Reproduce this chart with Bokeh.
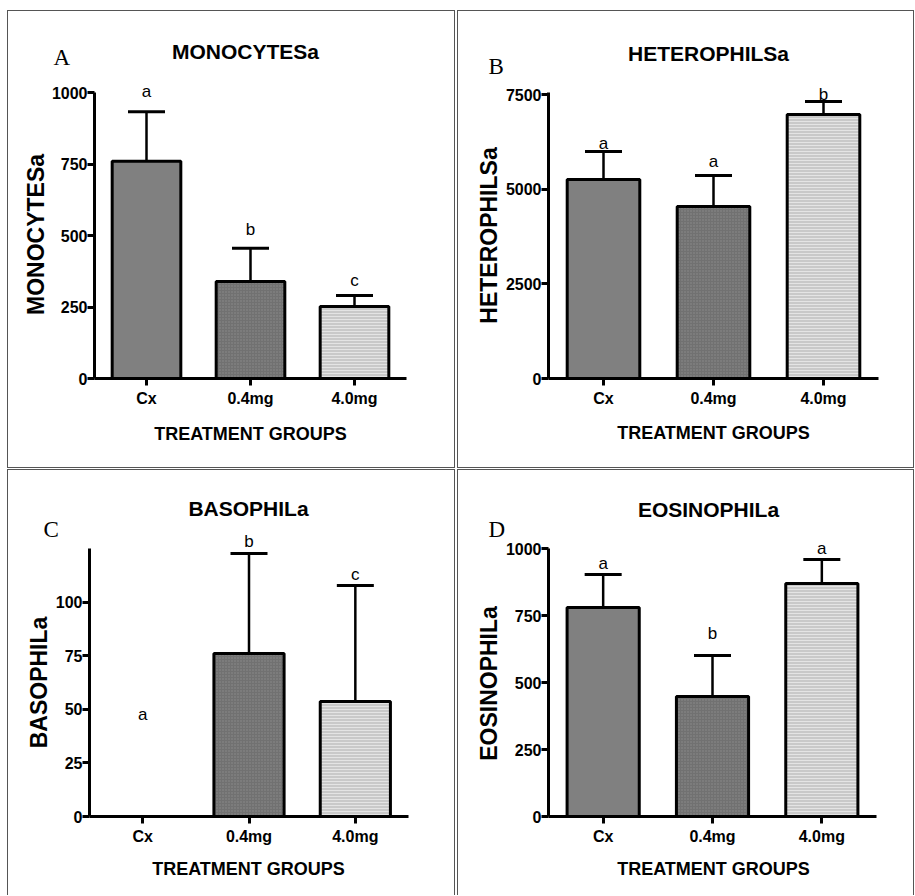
import math
from bokeh.plotting import figure
from bokeh.models import (Range1d, FixedTicker, Whisker, TeeHead,
                          Label, LabelSet, ColumnDataSource)
from bokeh.layouts import column, row
from bokeh.core.properties import value
from bokeh.embed import file_html
from bokeh.resources import INLINE

# ---------------- data ----------------
groups = ["Cx", "0.4mg", "4.0mg"]
x_label = "TREATMENT GROUPS"

mono_mean = [760, 339, 252]
mono_err = [933, 455, 290]
mono_sig = ["a", "b", "c"]
mono_sig_y = [1003, 521, 343]
mono_ticks = [0, 250, 500, 750, 1000]

het_mean = [5265, 4551, 6985]
het_err = [6006, 5371, 7329]
het_sig = ["a", "a", "b"]
het_sig_y = [6218, 5742, 7515]
het_ticks = [0, 2500, 5000, 7500]

baso_mean = [0, 76, 53.6]
baso_err = [None, 122.7, 107.7]
baso_sig = ["a", "b", "c"]
baso_sig_y = [47.6, 128.3, 112.9]
baso_ticks = [0, 25, 50, 75, 100]

eos_mean = [780, 448, 869]
eos_err = [903, 601, 959]
eos_sig = ["a", "b", "a"]
eos_sig_y = [944, 683, 1000]
eos_ticks = [0, 250, 500, 750, 1000]

# ---------------- styles ----------------
SANS = "Liberation Sans"
SERIF = "Liberation Serif"
bar_fill = ["#808080", "#717171", "#c9c9c9"]
bar_hatch = [" ", ".", "-"]
bar_hatch_color = ["#808080", "#8c8c8c", "#e4e4e4"]
xpos = [i + 0.5 for i in range(len(groups))]


def make_panel(means, errs, sigs, sig_y, ticks, ymax, title, ylabel, letter, g,
               bottom_border=True):
    ox, oy, W, H = g["fig"]
    L, R, T, B = g["axes"]          # pixel positions inside the figure
    n = len(groups)
    sx = (R - L) / n
    sy = (B - T) / ymax
    x_range = Range1d(-L / sx, n + (W - R) / sx)
    y_range = Range1d(-(H - B) / sy, ymax + T / sy)

    p = figure(x_range=x_range, y_range=y_range, width=W, height=H,
               output_backend="svg", toolbar_location=None, min_border=0)
    st = {"border": "1px solid #555555", "box-sizing": "border-box"}
    if not bottom_border:
        st["border-bottom"] = "none"
    p.styles = st
    p.outline_line_color = None
    p.xgrid.grid_line_color = None
    p.ygrid.grid_line_color = None

    def lab(text, px, py, font, size, style="normal", align="center",
            angle=0.0):
        p.add_layout(Label(x=px - ox, y=H - (py - oy), x_units="screen",
                           y_units="screen", text=text, text_font=font,
                           text_font_size=size, text_font_style=style,
                           text_align=align, text_baseline="middle",
                           text_color="black", angle=angle))

    src = ColumnDataSource(dict(x=xpos, top=means, fill=bar_fill,
                                hatch=bar_hatch, hcol=bar_hatch_color))
    p.vbar(x="x", top="top", width=0.66, source=src, fill_color="fill",
           line_color="black", line_width=3, hatch_pattern="hatch",
           hatch_color="hcol", hatch_scale=3, hatch_weight=1)

    ex = [xx for xx, e in zip(xpos, errs) if e is not None]
    eu = [e for e in errs if e is not None]
    el = [m for m, e in zip(means, errs) if e is not None]
    wsrc = ColumnDataSource(dict(x=ex, upper=eu, lower=el))
    p.add_layout(Whisker(base="x", upper="upper", lower="lower", source=wsrc,
                         lower_head=None,
                         upper_head=TeeHead(size=37, line_width=3, line_color="black"),
                         line_width=2.5, line_color="black", level="underlay"))

    lsrc = ColumnDataSource(dict(x=xpos, y=sig_y, t=sigs))
    p.add_layout(LabelSet(x="x", y="y", text="t", source=lsrc,
                          text_align="center", text_baseline="middle",
                          text_font=value(SANS), text_font_size="17px",
                          text_color="black"))

    for ax in (p.xaxis[0], p.yaxis[0]):
        ax.fixed_location = 0
        ax.axis_line_width = 3
        ax.axis_line_color = "black"
        ax.major_tick_line_width = 3
        ax.major_tick_line_color = "black"
        ax.major_tick_out = 7
        ax.major_tick_in = 0
        ax.minor_tick_line_color = None
        ax.major_label_text_font = SANS
        ax.major_label_text_font_style = "bold"
        ax.major_label_text_font_size = "16px"
        ax.major_label_text_color = "black"

    p.yaxis.ticker = FixedTicker(ticks=ticks)
    p.yaxis.bounds = (0, ymax)
    p.yaxis.major_label_standoff = 0

    p.xaxis.ticker = FixedTicker(ticks=xpos)
    p.xaxis.major_label_overrides = {xx: gname for xx, gname in zip(xpos, groups)}
    p.xaxis.bounds = (0, n)
    p.xaxis.major_label_standoff = 4

    tx, ty = g["title"]
    lab(title, tx, ty, SANS, "21px", "bold")
    lx, ly = g["letter"]
    lab(letter, lx, ly, SERIF, "23px", align="left")
    yx, yy = g["ylabel"]
    lab(ylabel, yx, yy, SANS, "23px", "bold", angle=math.pi / 2)
    xx_, xy_ = g["xlabel"]
    lab(x_label, xx_, xy_, SANS, "18px", "bold")
    return p


# layout geometry in page pixels: figure box (x, y, w, h), axes inside figure
geoA = dict(fig=(7, 10, 448, 458), axes=(86, 398, 81, 367),
            title=(244, 50), letter=(52, 56), ylabel=(34, 233), xlabel=(249, 432))
geoB = dict(fig=(457, 10, 457, 458), axes=(90, 420, 81, 367),
            title=(707, 52), letter=(487, 65), ylabel=(487, 234), xlabel=(712, 431))
geoC = dict(fig=(7, 469, 448, 426), axes=(81, 400, 78, 346),
            title=(247, 507), letter=(42, 528), ylabel=(37, 681), xlabel=(247, 867))
geoD = dict(fig=(457, 469, 457, 426), axes=(90, 418, 78, 346),
            title=(707, 508), letter=(487, 528), ylabel=(487, 682), xlabel=(712, 867))

pA = make_panel(mono_mean, mono_err, mono_sig, mono_sig_y, mono_ticks, 1000,
                "MONOCYTESa", "MONOCYTESa", "A", geoA)
pB = make_panel(het_mean, het_err, het_sig, het_sig_y, het_ticks, 7566,
                "HETEROPHILSa", "HETEROPHILSa", "B", geoB)
pC = make_panel(baso_mean, baso_err, baso_sig, baso_sig_y, baso_ticks, 125,
                "BASOPHILa", "BASOPHILa", "C", geoC, bottom_border=False)
pD = make_panel(eos_mean, eos_err, eos_sig, eos_sig_y, eos_ticks, 1000,
                "EOSINOPHILa", "EOSINOPHILa", "D", geoD, bottom_border=False)

layout = column(row(pA, pB, spacing=2), row(pC, pD, spacing=2), spacing=1,
                margin=(10, 0, 0, 7))

open("out.html", "w").write(file_html(layout, INLINE))
